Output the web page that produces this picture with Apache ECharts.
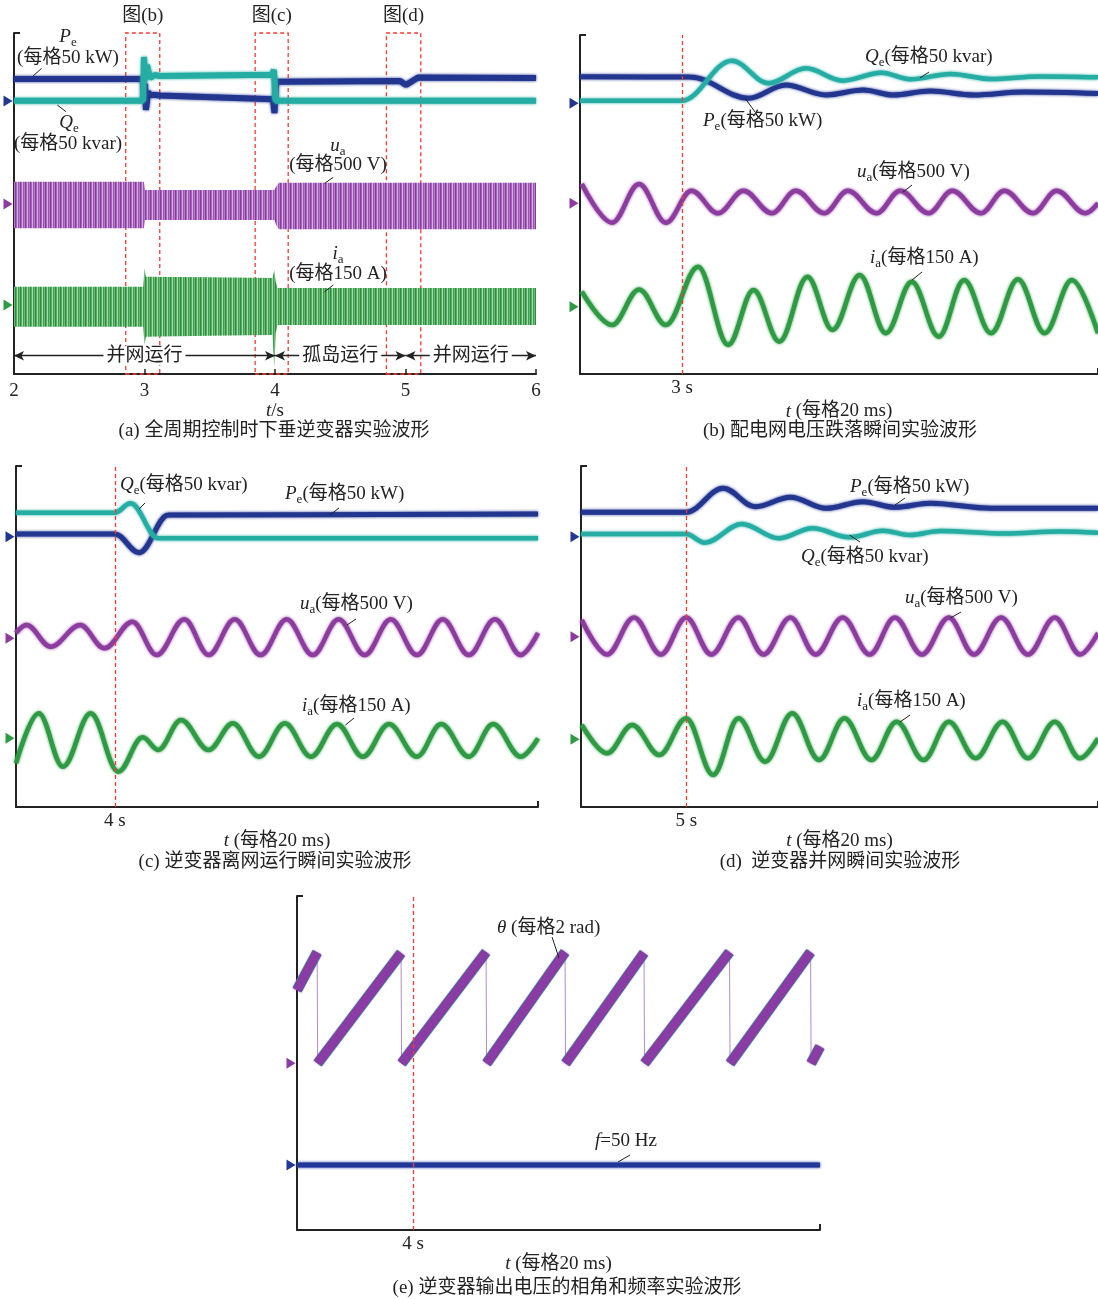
<!DOCTYPE html>
<html>
<head>
<meta charset="utf-8">
<title>下垂逆变器实验波形</title>
<script src="https://cdn.jsdelivr.net/npm/echarts@6/dist/echarts.min.js"></script>
<style>
html,body{margin:0;padding:0;background:#ffffff;}
#chart{width:1098px;height:1299px;}
</style>
</head>
<body>
<div id="chart"></div>
<script>
// ===================== DATA =====================
// units: P kW, Q kvar, u V, i A, theta rad, f Hz
// (a) full cycle, t in s
const aPe = [[2.0,31.2],[2.989,31.2],[2.996,1.4],[3.004,24.1],[3.011,-12.7],[3.027,12.7],[3.042,8.5],[3.080,8.5],[3.119,7.8],[3.985,2.4],[3.996,-17],[4.008,27.3],[4.023,28.3],[4.958,28.3],[5.004,22.7],[5.096,33.3],[6.0,32.6]];
const aQe = [[2.0,0.4],[2.989,0.4],[2.996,62.3],[3.004,29.7],[3.019,51],[3.042,32.6],[3.080,36.8],[3.119,35.4],[3.977,37.2],[3.992,43.9],[4.004,0.4],[6.0,0.4]];
const aUaTime = [2.0, 2.995, 3.005, 3.995, 4.01, 4.03, 6.0];
const aUaUpper = [316, 316, 198, 198, 250, 302, 302];
const aUaLower = [-344, -344, -227, -227, -300, -358, -358];
const aIaTime = [2.0, 2.99, 3.0, 3.01, 3.5, 3.98, 3.995, 4.005, 4.02, 6.0];
const aIaUpper = [77.8, 77.8, 157, 120, 118, 114.7, 148.7, 100, 72.2, 72.2];
const aIaLower = [-92.6, -92.6, -170, -134.7, -131, -127.5, -267.7, -120, -85, -85];
const aPhases = [[2, 4, '并网运行'], [4, 5, '孤岛运行'], [5, 6, '并网运行']];
const aZoomWindows = [[2.856, 3.117, '图(b)'], [3.848, 4.101, '图(c)'], [4.854, 5.117, '图(d)']];
const aTicks = [2, 3, 4, 5, 6];

// (b) grid voltage sag, t in ms relative to 3 s
const bQe = [[-39.4,3.7],[0,3.7],[19.2,60.3],[33.4,28.3],[47.8,49.6],[62.0,32.0],[77.0,43.3],[88.0,34.0],[103.7,41.5],[119.3,34.4],[138.2,38.0],[160.6,36.8]];
const bPe = [[-39.4,37.7],[3.1,37.3],[25.7,7.1],[40.0,25.9],[55.6,11.8],[69.9,18.8],[81.5,11.8],[95.8,17.4],[112.7,11.8],[132.0,16.0],[160.6,13.9]];
const bUa = [[-38.7,273],[-27.0,-275],[-16.6,273],[-6.2,-275],[3.6,178],[13.9,-142],[23.7,178],[34.7,-142],[43.9,178],[54.9,-142],[64.0,178],[75.1,-142],[84.2,178],[95.2,-142],[104.3,178],[115.4,-142],[124.4,178],[135.5,-142],[144.6,178],[155.7,-142],[160.6,0]];
const bIa = [[-38.7,63.7],[-27.0,-77.8],[-16.6,73.1],[-6.2,-77.8],[6.2,170],[17.8,-162.7],[27.6,71],[37.6,-148.7],[48.4,127.5],[58.1,-99],[68.6,134.7],[78.7,-113],[88.7,106.2],[99.1,-127.5],[108.9,113.4],[119.3,-113],[129.7,116.4],[140.0,-113],[150.5,113.4],[160.6,-113]];

// (c) islanding, t in ms relative to 4 s
const cQe = [[-37.9,34.0],[0,34.0],[6.0,47.3],[16.6,-2.3],[162.1,-2.3]];
const cPe = [[-37.9,3.8],[0,3.8],[9.3,-22.7],[20.4,30.7],[162.1,32.2]];
const cUa = [[-37.9,75],[-33.9,188],[-24.6,-119],[-13.3,188],[-4.0,-142],[6.7,235],[16.0,-237],[26.6,269],[35.9,-237],[45.9,269],[55.8,-237],[65.8,269],[75.8,-237],[85.7,269],[95.7,-237],[105.7,269],[115.7,-237],[125.6,269],[135.6,-237],[145.6,269],[155.5,-237],[162.1,75]];
const cIa = [[-37.9,-106],[-29.2,106],[-19.9,-120.7],[-9.3,106],[1.3,-141.9],[10.6,4.2],[16.6,-49.7],[25.3,77.8],[35.9,-49.7],[45.2,63.7],[55.2,-78.2],[65.1,63.7],[75.1,-78.2],[85.1,60.8],[95.0,-78.2],[105.0,60.8],[115.7,-78.2],[125.0,60.8],[135.6,-78.2],[144.9,60.8],[155.5,-78.2],[162.1,0]];

// (d) reconnection, t in ms relative to 5 s
const dPe = [[-40.7,34.6],[0,34.6],[14.3,68.6],[26.7,42.5],[40.3,55.8],[54.1,40.2],[68.4,49.6],[80.8,41.6],[94.4,47.3],[118.0,40.2],[159.3,40.2]];
const dQe = [[-40.7,3.8],[0,3.8],[7.2,-8.5],[21.5,18.0],[35.8,-2.3],[48.8,11.9],[63.2,-0.8],[76.1,8.5],[86.6,2.4],[98.2,8.1],[123.3,4.5],[144.6,7.4],[159.3,5.7]];
const dUa = [[-40.4,236],[-30.6,-252],[-20.2,272],[-9.8,-252],[0,272],[9.7,-252],[20.2,272],[29.9,-252],[40.3,272],[50.1,-252],[60.5,272],[71.0,-252],[80.7,272],[91.2,-252],[101.6,272],[111.3,-252],[121.8,272],[132.2,-252],[142.6,272],[152.4,-252],[159.3,52]];
const dIa = [[-40.4,60.8],[-30.6,-59.5],[-20.9,60.8],[-10.4,-66.7],[0,89.2],[10.4,-151.7],[20.2,89.2],[30.6,-95.2],[41.0,110.5],[51.4,-88],[61.2,89.2],[71.6,-88],[81.4,74.8],[91.8,-88],[101.6,74.8],[112.0,-80.7],[122.4,74.8],[132.2,-80.7],[142.6,74.8],[152.3,-80.7],[159.3,4.2]];

// (e) phase angle ramps and frequency, t in ms relative to 4 s
const eThetaRamps = [
  [[-44.4,4.15],[-36.7,6.28]],
  [[-36.5,0],[-4.6,6.25]],
  [[-4.4,0],[27.9,6.3]],
  [[28.1,0],[58.1,6.3]],
  [[58.3,0],[88.3,6.25]],
  [[88.5,0],[121.0,6.3]],
  [[121.2,0],[152.0,6.3]],
  [[152.2,0],[155.6,0.94]]
];
const eF = [[-44.4,50],[155.6,50]];

// ===================== CONFIG =====================
const FONT = '"Liberation Serif","Noto Sans CJK SC",serif';
const COL = {P:'#22358f', Q:'#26ada3', ua:'#8c3c9e', ia:'#2f9a44', th:'#8a3ca4', f:'#22379a', red:'#f23c36', ink:'#222222'};
const SCALE = {P:50, Q:50, ua:500, ia:150, th:2, f:1};
const OFF = {
  a:{PQ:7.734, ua:4.816, ia:1.955},
  b:{PQ:7.669, ua:4.836, ia:1.907},
  c:{PQ:7.657, ua:4.779, ia:1.946},
  d:{PQ:7.657, ua:4.824, ia:1.918},
  e:{th:4.722, f:1.841}
};
const PANELS = [
  {key:'a', left:14,  top:33,  width:522, height:341, xMin:2,     xMax:6,     yMax:9.66},
  {key:'b', left:580, top:35,  width:518, height:339, xMin:-39.4, xMax:160.6, yMax:9.603, event:'3 s'},
  {key:'c', left:16,  top:466, width:522, height:341, xMin:-37.9, xMax:162.1, yMax:9.66,  event:'4 s'},
  {key:'d', left:581, top:466, width:517, height:341, xMin:-40.7, xMax:159.3, yMax:9.66,  event:'5 s'},
  {key:'e', left:297, top:896, width:523, height:334, xMin:-44.4, xMax:155.6, yMax:9.462, event:'4 s'}
];

function toDiv(data, off, scale, ref) {
  ref = ref || 0;
  return data.map(p => [p[0], off + (p[1] - ref) / scale]);
}
function stripes(colors) {
  const c = document.createElement('canvas');
  c.width = colors.length; c.height = 1;
  const g = c.getContext('2d');
  colors.forEach((col, i) => { g.fillStyle = col; g.fillRect(i, 0, 1, 1); });
  return c;
}
const RICH = {
  i: {fontStyle:'italic', fontSize:19, fontFamily:FONT, color:COL.ink, fill:COL.ink},
  s: {fontSize:13, fontFamily:FONT, color:COL.ink, fill:COL.ink, padding:[11,0,0,0]},
  n: {fontSize:19, fontFamily:FONT, color:COL.ink, fill:COL.ink}
};

function trace(gi, data, color, width, smooth, extra) {
  const s = {
    type:'line', xAxisIndex:gi, yAxisIndex:gi, data:data, symbol:'none', silent:true, animation:false,
    smooth: smooth ? smooth : false,
    lineStyle:{color:color, width:width, shadowColor:color, shadowBlur:3},
    z:3
  };
  if (smooth) s.smoothMonotone = 'x';
  return Object.assign(s, extra || {});
}
function band(gi, t, hi, lo, off, scale, fill) {
  return {
    type:'custom', xAxisIndex:gi, yAxisIndex:gi, silent:true, animation:false,
    dimensions:['x','y'], encode:{x:0, y:1},
    data:[[t[0], off]], z:2,
    renderItem: function (params, api) {
      const pts = [];
      for (let k = 0; k < t.length; k++) pts.push(api.coord([t[k], off + hi[k] / scale]));
      for (let k = t.length - 1; k >= 0; k--) pts.push(api.coord([t[k], off + lo[k] / scale]));
      return {type:'polygon', shape:{points:pts}, style:{fill:fill}};
    }
  };
}
function markers(gi, xMin, list) {
  return {
    type:'scatter', xAxisIndex:gi, yAxisIndex:gi, clip:false, silent:true, animation:false,
    symbol:'triangle', symbolRotate:-90, symbolSize:[11, 9], symbolOffset:[-6, 0], z:5,
    data: list.map(m => ({value:[xMin, m[0]], itemStyle:{color:m[1], opacity:1}}))
  };
}
function eventLine() {
  return {silent:true, symbol:['none','none'], label:{show:false}, animation:false,
    lineStyle:{color:COL.red, type:[4,3], width:1.3}, data:[{xAxis:0}]};
}

// ===================== AXES / GRIDS =====================
const grid = [], xAxis = [], yAxis = [];
PANELS.forEach((p, gi) => {
  grid.push({left:p.left, top:p.top, width:p.width, height:p.height, containLabel:false, outerBoundsMode:'none'});
  const xa = {
    gridIndex:gi, type:'value', min:p.xMin, max:p.xMax,
    axisLine:{show:true, onZero:false, lineStyle:{color:COL.ink, width:2}},
    splitLine:{show:false},
    nameLocation:'middle', nameGap:24,
    nameTextStyle:{fontSize:19, fontFamily:FONT, color:COL.ink, rich:RICH}
  };
  if (p.key === 'a') {
    xa.interval = 1;
    xa.axisTick = {show:true, inside:true, length:5, lineStyle:{color:COL.ink, width:1.5}};
    xa.axisLabel = {show:true, fontSize:19, fontFamily:FONT, color:COL.ink, margin:8, customValues:aTicks};
    xa.name = '{i|t}/s';
    xa.nameGap = 26;
  } else {
    xa.axisTick = {show:true, inside:true, length:6, customValues:[p.xMax], lineStyle:{color:COL.ink, width:2}};
    xa.axisLabel = {show:true, fontSize:19, fontFamily:FONT, color:COL.ink, margin:5, customValues:[0], formatter:(function(ev){return function(){return ev;};})(p.event)};
    xa.name = '{i|t} (每格20 ms)';
    xa.nameGap = p.key === 'b' ? 28 : 24;
  }
  xAxis.push(xa);
  yAxis.push({
    gridIndex:gi, type:'value', min:0, max:p.yMax,
    axisLine:{show:true, onZero:false, lineStyle:{color:COL.ink, width:2}},
    axisTick:{show:true, inside:true, length:6, customValues:[p.yMax], lineStyle:{color:COL.ink, width:2}},
    axisLabel:{show:false}, splitLine:{show:false}
  });
});

// ===================== SERIES =====================
const series = [];
const purpleFill = {image:stripes(['#8a3a9d','#a766bb','#d3aee0','#9d55b2','#b47cc6']), repeat:'repeat'};
const greenFill  = {image:stripes(['#2c8c3c','#55ae63','#a8d8ae','#3f9d4e','#6cbb78']), repeat:'repeat'};

// ---- (a)
const A = OFF.a;
series.push(band(0, aUaTime, aUaUpper, aUaLower, A.ua, SCALE.ua, purpleFill));
series.push(band(0, aIaTime, aIaUpper, aIaLower, A.ia, SCALE.ia, greenFill));
series.push(trace(0, toDiv(aPe, A.PQ, SCALE.P), COL.P, 6, 0, {
  markArea:{silent:true, animation:false,
    itemStyle:{color:'rgba(0,0,0,0)', borderColor:COL.red, borderWidth:1.3, borderType:[4,3]},
    label:{show:true, position:'top', distance:7, fontSize:19, fontFamily:FONT, color:COL.ink, formatter:'{b}'},
    data: aZoomWindows.map(w => [{xAxis:w[0], name:w[2]}, {xAxis:w[1]}])
  },
  markLine:{silent:true, animation:false, symbol:['arrow','arrow'], symbolSize:[7,10],
    lineStyle:{color:COL.ink, width:1.3, type:'solid'},
    label:{show:true, position:'middle', distance:0, verticalAlign:'middle', align:'center', formatter:'{b}', fontSize:19, fontFamily:FONT, color:COL.ink, backgroundColor:'#ffffff', padding:[0,3]},
    data: aPhases.map(ph => [{coord:[ph[0], 0.518], name:ph[2]}, {coord:[ph[1], 0.518]}])
  }
}));
series.push(trace(0, toDiv(aQe, A.PQ, SCALE.Q), COL.Q, 6, 0));
series.push(markers(0, 2, [[A.PQ, COL.P], [A.ua, COL.ua], [A.ia, COL.ia]]));

// ---- (b)..(d)
[['b', 1, bPe, bQe, bUa, bIa], ['c', 2, cPe, cQe, cUa, cIa], ['d', 3, dPe, dQe, dUa, dIa]].forEach(cfg => {
  const k = cfg[0], gi = cfg[1], O = OFF[k];
  series.push(trace(gi, toDiv(cfg[2], O.PQ, SCALE.P), COL.P, 5, 0.36, {markLine:eventLine()}));
  series.push(trace(gi, toDiv(cfg[3], O.PQ, SCALE.Q), COL.Q, 4.5, 0.36));
  series.push(trace(gi, toDiv(cfg[4], O.ua, SCALE.ua), COL.ua, 4.5, 0.36));
  series.push(trace(gi, toDiv(cfg[5], O.ia, SCALE.ia), COL.ia, 4.5, 0.36));
  series.push(markers(gi, PANELS[gi].xMin, [[O.PQ, COL.P], [O.ua, COL.ua], [O.ia, COL.ia]]));
});

// ---- (e)
const E = OFF.e;
const thetaAll = [];
eThetaRamps.forEach(r => { thetaAll.push(r[0]); thetaAll.push(r[1]); });
series.push(trace(4, toDiv(thetaAll, E.th, SCALE.th), '#b48cc6', 1, 0, {lineStyle:{color:'#b48cc6', width:1}, z:2, markLine:eventLine()}));
eThetaRamps.forEach(r => {
  series.push(trace(4, toDiv(r, E.th, SCALE.th), '#27b0a6', 10.5, 0, {z:3, lineStyle:{color:'#27b0a6', width:10.5, cap:'butt'}}));
  series.push(trace(4, toDiv(r, E.th, SCALE.th), COL.th, 9, 0, {z:4, lineStyle:{color:COL.th, width:9, cap:'butt', shadowColor:'#6d2a8a', shadowBlur:2}}));
});
series.push(trace(4, toDiv(eF, E.f, SCALE.f, 50), COL.f, 5, 0));
series.push(markers(4, PANELS[4].xMin, [[E.th, COL.th], [E.f, COL.f]]));

// ===================== ANNOTATIONS =====================
const graphic = [];
function txt(x, y, text, align) {
  graphic.push({type:'text', x:x, y:y, silent:true, z:100,
    style:{text:text, align:align || 'left', textAlign:align || 'left', verticalAlign:'middle', textVerticalAlign:'middle',
      fill:COL.ink, font:'19px ' + FONT, rich:RICH}});
}
function lead(p) {
  graphic.push({type:'line', silent:true, z:100, shape:{x1:p[0][0], y1:p[0][1], x2:p[1][0], y2:p[1][1]}, style:{stroke:COL.ink, lineWidth:1}});
}
// (a)
txt(68, 37, '{i|P}{s|e}', 'center');
txt(68, 58, '(每格50 kW)', 'center');
txt(69, 123, '{i|Q}{s|e}', 'center');
txt(68, 144, '(每格50 kvar)', 'center');
txt(338, 146, '{i|u}{s|a}', 'center');
txt(338, 165, '(每格500 V)', 'center');
txt(338, 254, '{i|i}{s|a}', 'center');
txt(338, 274, '(每格150 A)', 'center');
[[[41.7,68.3],[33,76]], [[57.3,105],[66,111.7]], [[324.6,183.3],[333.3,177.3]], [[324.6,291.7],[333.3,285]]].forEach(lead);
// (b)
txt(865, 57, '{i|Q}{s|e}(每格50 kvar)');
txt(703, 121, '{i|P}{s|e}(每格50 kW)');
txt(857, 172, '{i|u}{s|a}(每格500 V)');
txt(870, 258, '{i|i}{s|a}(每格150 A)');
[[[920,78],[929,72]], [[745,98],[755,112]], [[903,192],[912,185]], [[912,280],[922,272]]].forEach(lead);
// (c)
txt(120, 485, '{i|Q}{s|e}(每格50 kvar)');
txt(285, 494, '{i|P}{s|e}(每格50 kW)');
txt(300, 604, '{i|u}{s|a}(每格500 V)');
txt(302, 706, '{i|i}{s|a}(每格150 A)');
[[[139,509],[145,503]], [[330,515],[339,508]], [[347,625],[356,619]], [[345.5,725],[354,718]]].forEach(lead);
// (d)
txt(850, 487, '{i|P}{s|e}(每格50 kW)');
txt(801, 557, '{i|Q}{s|e}(每格50 kvar)');
txt(905, 598, '{i|u}{s|a}(每格500 V)');
txt(857, 701, '{i|i}{s|a}(每格150 A)');
[[[895,505],[905,498]], [[849.5,535],[860,542]], [[950.5,618],[961,612]], [[900,722],[910,715]]].forEach(lead);
// (e)
txt(497, 928, '{i|θ} (每格2 rad)');
txt(595, 1141, '{i|f}=50 Hz');
[[[552,937],[559,958]], [[618,1162],[630,1155]]].forEach(lead);
// captions
txt(274, 431, '(a) 全周期控制时下垂逆变器实验波形', 'center');
txt(840, 431, '(b) 配电网电压跌落瞬间实验波形', 'center');
txt(275, 862, '(c) 逆变器离网运行瞬间实验波形', 'center');
txt(840, 862, '(d)  逆变器并网瞬间实验波形', 'center');
txt(567, 1288, '(e) 逆变器输出电压的相角和频率实验波形', 'center');

const chart = echarts.init(document.getElementById('chart'), null, {renderer:'canvas'});
chart.setOption({
  animation:false,
  backgroundColor:'#ffffff',
  grid:grid, xAxis:xAxis, yAxis:yAxis,
  series:series,
  graphic:graphic
});
</script>
</body>
</html>
